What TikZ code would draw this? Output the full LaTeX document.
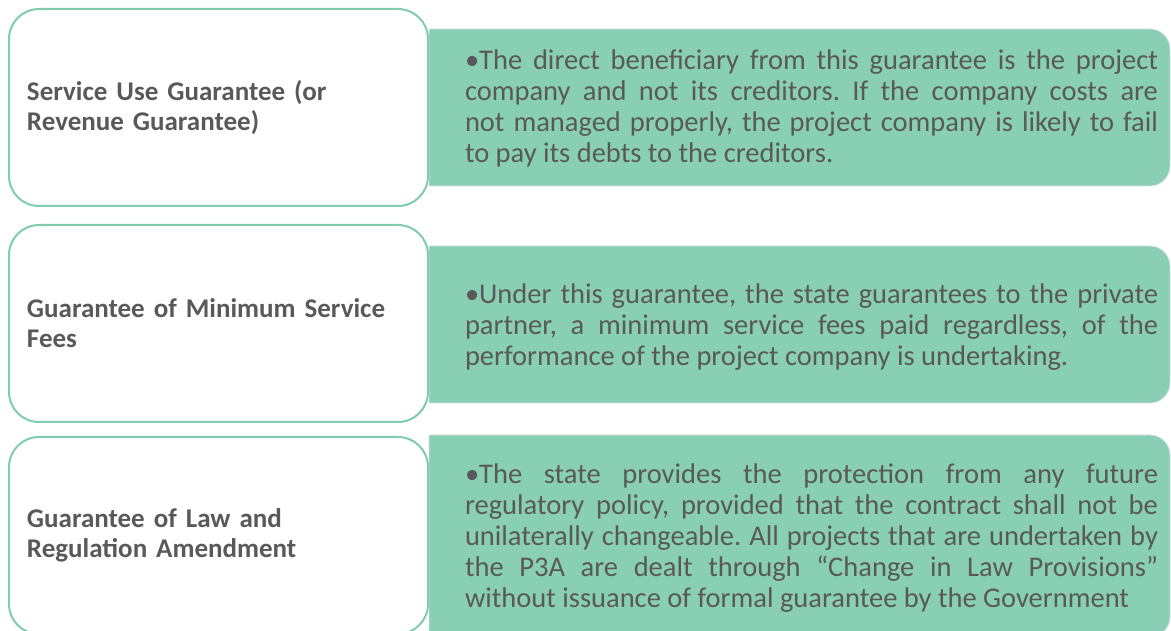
\documentclass[tikz,border=0pt]{standalone}
\usepackage{fontspec}
\setmainfont{Carlito}
\usetikzlibrary{calc,backgrounds}
\definecolor{txtgray}{HTML}{595959}
\definecolor{lgreen}{HTML}{7FCCAE}
\definecolor{rfill}{HTML}{88CFB4}
\definecolor{redge}{HTML}{D8DEE8}
\hfuzz=30pt
\hbadness=10000
\tolerance=10000
\frenchspacing
\newcommand{\rtxt}[1]{\parbox{693pt}{\fontsize{28.5}{31}\selectfont\parindent=0pt\hyphenpenalty=10000\frenchspacing\spaceskip=0.226em plus 1em minus 0.1em\relax #1}}
\begin{document}
\begin{tikzpicture}[x=1pt,y=1pt,
  lbox/.style={draw=lgreen, line width=2pt, rounded corners=30pt, fill=white,
    minimum width=419pt, minimum height=197pt, inner xsep=18pt, text width=383pt,
    align=left, text=txtgray, font=\fontsize{27}{30}\selectfont\bfseries},
  rshape/.style={inner sep=0pt, outer sep=0pt, minimum width=741pt},
  rtext/.style={inner sep=0pt, text=txtgray}
]
\useasboundingbox (0,0) rectangle (1171,630);
\clip (0,0) rectangle (1171,630);
% right shapes (anchors)
\node[rshape, minimum height=157pt] (r1) at (799.5,522.5) {};
\node[rshape, minimum height=157pt] (r2) at (799.5,305.5) {};
\node[rshape, minimum height=202pt] (r3) at (799.5,94) {};
\foreach \n in {r1,r2,r3}{
  \filldraw[fill=rfill, draw=redge, line width=0.8pt] (\n.north west) -- ($(\n.north east)+(-20pt,0)$)
    arc[start angle=90,end angle=0,radius=20pt] -- ($(\n.south east)+(0,20pt)$)
    arc[start angle=0,end angle=-90,radius=20pt] -- (\n.south west) -- cycle;
}
% left boxes
\node[lbox] (l1) at (218.5,522.5) {Service Use Guarantee (or\\Revenue Guarantee)};
\node[lbox] (l2) at (218.5,306.5) {Guarantee of Minimum Service\\Fees};
\node[lbox] (l3) at (218.5,94.5) {Guarantee of Law and\\Regulation Amendment};
% right texts
\node[rtext] (t1) at (811.5,522) {\rtxt{•The direct beneficiary from this guarantee is the project\linebreak
company and not its creditors. If the company costs are\linebreak
not managed properly, the project company is likely to fail\linebreak
to pay its debts to the creditors.}};
\node[rtext] (t2) at (811.5,303) {\rtxt{•Under this guarantee, the state guarantees to the private\linebreak
partner, a minimum service fees paid regardless, of the\linebreak
performance of the project company is undertaking.}};
\node[rtext] (t3) at (811.5,92) {\rtxt{•The state provides the protection from any future\linebreak
regulatory policy, provided that the contract shall not be\linebreak
unilaterally changeable. All projects that are undertaken by\linebreak
the P3A are dealt through “Change in Law Provisions”\linebreak
without issuance of formal guarantee by the Government}};
\end{tikzpicture}
\end{document}
